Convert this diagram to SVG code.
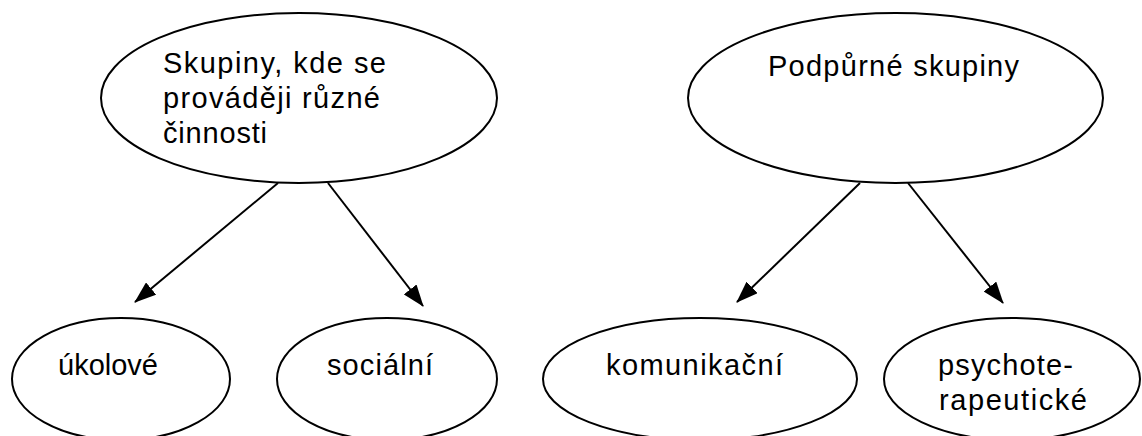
<svg xmlns="http://www.w3.org/2000/svg" width="1142" height="436" viewBox="0 0 1142 436">
  <style>
    .node { fill: #ffffff; stroke: #000000; stroke-width: 2; }
    .label { font-family: "Liberation Sans", Arial, sans-serif; font-size: 29px; fill: #000000; }
    .edge { stroke: #000000; stroke-width: 2; fill: none; marker-end: url(#arrow); }
  </style>
  <defs>
    <marker id="arrow" viewBox="0 0 22 16" refX="21" refY="8" markerWidth="22" markerHeight="16" markerUnits="userSpaceOnUse" orient="auto">
      <path d="M0,0 L22,8 L0,16 z" fill="#000000"/>
    </marker>
  </defs>
  <rect width="1142" height="436" fill="#ffffff"/>

  <!-- connectors -->
  <g id="connectors">
    <line class="edge" x1="278" y1="183" x2="135" y2="302"/>
    <line class="edge" x1="328" y1="183" x2="423" y2="306"/>
    <line class="edge" x1="860" y1="183" x2="737" y2="302"/>
    <line class="edge" x1="908" y1="183" x2="1003" y2="303"/>
  </g>

  <!-- top-level groups -->
  <g id="node-cinnosti">
    <ellipse class="node" cx="299" cy="98" rx="198" ry="85"/>
    <text class="label" x="163" y="73" textLength="223" lengthAdjust="spacing">Skupiny, kde se</text>
    <text class="label" x="163" y="108" textLength="217" lengthAdjust="spacing">prováději různé</text>
    <text class="label" x="163" y="143" textLength="104" lengthAdjust="spacing">činnosti</text>
  </g>
  <g id="node-podpurne">
    <ellipse class="node" cx="895.5" cy="98" rx="207.5" ry="85"/>
    <text class="label" x="768" y="76" textLength="251" lengthAdjust="spacing">Podpůrné skupiny</text>
  </g>

  <!-- subgroups -->
  <g id="node-ukolove">
    <ellipse class="node" cx="121" cy="379" rx="109" ry="61"/>
    <text class="label" x="58" y="375">úkolové</text>
  </g>
  <g id="node-socialni">
    <ellipse class="node" cx="387" cy="379" rx="110" ry="61"/>
    <text class="label" x="327" y="375" textLength="106" lengthAdjust="spacing">sociální</text>
  </g>
  <g id="node-komunikacni">
    <ellipse class="node" cx="700" cy="379" rx="157" ry="61"/>
    <text class="label" x="606" y="375" textLength="177" lengthAdjust="spacing">komunikační</text>
  </g>
  <g id="node-psychoterapeuticke">
    <ellipse class="node" cx="1012" cy="379" rx="128" ry="61"/>
    <text class="label" x="938" y="375" textLength="135" lengthAdjust="spacing">psychote-</text>
    <text class="label" x="939" y="410" textLength="148" lengthAdjust="spacing">rapeutické</text>
  </g>
</svg>
